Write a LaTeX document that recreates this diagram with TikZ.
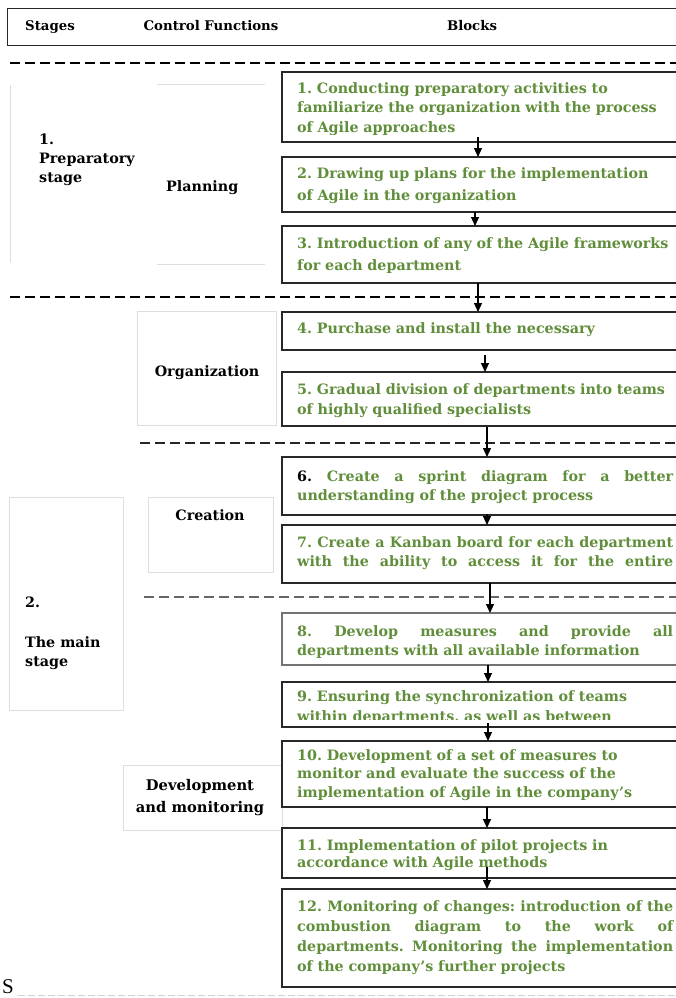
\documentclass[tikz,border=0pt]{standalone}
\usepackage{fontspec}
\setmainfont{DejaVu Serif}
\newfontfamily\timesfont{Liberation Serif}
\usetikzlibrary{arrows.meta}
\definecolor{tgreen}{RGB}{96,142,58}
\definecolor{lgray}{RGB}{222,222,222}
\definecolor{bline}{RGB}{40,40,40}
\newcommand{\jline}[1]{\makebox[376pt][s]{\spaceskip=0pt\xspaceskip=0pt #1}}
\begin{document}
\frenchspacing
\begin{tikzpicture}[x=1pt,y=-1pt,
  blk/.style={draw=bline, line width=1.2pt, anchor=north west, minimum width=400pt, minimum height=#1, inner sep=0pt, outer sep=0pt},
  btxt/.style={anchor=north west, inner sep=0pt, text width=376pt, align=left, text=tgreen, font=\bfseries\fontsize{14.3}{#1}\selectfont\frenchspacing},
  arr/.style={draw=black, line width=1.2pt, -{Triangle[length=9pt,width=8pt]}},
  dline/.style={line width=1.4pt, dash pattern=on 10pt off 5pt},
  gbox/.style={draw=lgray, line width=1pt},
  lbl/.style={font=\bfseries\fontsize{14.3}{19}\selectfont, inner sep=0pt},
  hdr/.style={font=\bfseries\fontsize{13.3}{16}\selectfont, inner sep=0pt, anchor=base},
]
\useasboundingbox (0,0) rectangle (676,998);
\clip (0,0) rectangle (676,998);
\fill[white] (0,0) rectangle (676,998);

% header
\node[draw=bline, line width=1.2pt, anchor=north west, minimum width=700pt, minimum height=37pt, inner sep=0pt] (head) at (7,8) {};
\node[hdr] (hstages) at (50,31) {Stages};
\node[hdr] (hcontrol) at (211,31) {Control Functions};
\node[hdr] (hblocks) at (472,31) {Blocks};

% dashed separators
\coordinate (d1a) at (10,63);  \coordinate (d1b) at (676,63);
\coordinate (d2a) at (10,297); \coordinate (d2b) at (676,297);
\coordinate (d3a) at (140,443); \coordinate (d3b) at (676,443);
\coordinate (d4a) at (144,597); \coordinate (d4b) at (676,597);
\coordinate (d5a) at (18,995); \coordinate (d5b) at (676,995);
\draw[dline, black] (d1a) -- (d1b);
\draw[dline, black] (d2a) -- (d2b);
\draw[dline, black!85] (d3a) -- (d3b);
\draw[dline, black!60] (d4a) -- (d4b);
\draw[line width=1pt, draw=black!18, dash pattern=on 7pt off 3pt] (d5a) -- (d5b);

% left gray frames
\draw[gbox] (10,85) -- (10,263);
\draw[gbox] (157,84) -- (265,84);
\draw[gbox] (157,264) -- (265,264);
\node[gbox, anchor=north west, minimum width=139pt, minimum height=114pt, inner sep=0pt] (orgbox) at (137,311) {};
\node[gbox, anchor=north west, minimum width=125pt, minimum height=75pt, inner sep=0pt] (creabox) at (148,497) {};
\node[gbox, anchor=north west, minimum width=114pt, minimum height=213pt, inner sep=0pt] (st2box) at (9,497) {};
\node[gbox, anchor=north west, minimum width=159pt, minimum height=65pt, inner sep=0pt] (devbox) at (123,765) {};

% left labels
\node[lbl, anchor=north west, align=left] (st1) at (39,130.7) {\strut 1.\\Preparatory\\stage};
\node[lbl, anchor=base west] (plan) at (166,191) {Planning};
\node[lbl, anchor=base] (org) at (207,376) {Organization};
\node[lbl, anchor=base] (crea) at (210,520) {Creation};
\node[lbl, anchor=base west] (st2a) at (25,607) {2.};
\node[lbl, anchor=north west, align=left] (st2b) at (25,633.7) {\strut The main\\stage};
\node[lbl, anchor=north, align=center, font=\bfseries\fontsize{14.7}{22}\selectfont] (dev) at (200,774.6) {\strut Development\\and monitoring};

% blocks
\node[blk=70pt] (b1) at (282,72) {};
\node[blk=55pt] (b2) at (282,157) {};
\node[blk=57pt] (b3) at (282,226) {};
\node[blk=38pt] (b4) at (282,312) {};
\node[blk=54pt] (b5) at (282,372) {};
\node[blk=58pt] (b6) at (282,457) {};
\node[blk=58pt] (b7) at (282,525) {};
\node[blk=52pt, draw=black!55] (b8) at (282,613) {};
\node[blk=45pt] (b9) at (282,682) {};
\node[blk=66pt] (b10) at (282,741) {};
\node[blk=50pt] (b11) at (282,828) {};
\node[blk=98pt] (b12) at (282,889) {};

% block texts
\begin{scope}
\clip (282,72) rectangle (676,134);
\node[btxt=19.5pt] (t1) at (297,79.35) {\strut 1. Conducting preparatory activities to\\familiarize the organization with the process\\of Agile approaches};
\end{scope}
\node[btxt=22pt] (t2) at (297,162.6) {\strut 2. Drawing up plans for the implementation\\of Agile in the organization};
\node[btxt=22pt] (t3) at (297,232.6) {\strut 3. Introduction of any of the Agile frameworks\\for each department};
\node[btxt=19.5pt] (t4) at (297,319.35) {\strut 4. Purchase and install the necessary};
\node[btxt=20pt] (t5) at (297,380) {\strut 5. Gradual division of departments into teams\\of highly qualified specialists};
\node[btxt=19pt] (t6) at (297,467.7) {\jline{\strut\textcolor{black}{6.} Create a sprint diagram for a better}\\understanding of the project process};
\node[btxt=19pt] (t7) at (297,533.7) {\jline{\strut 7. Create a Kanban board for each department}\\\jline{with the ability to access it for the entire}};
\node[btxt=19pt] (t8) at (297,622.7) {\jline{\strut 8. Develop measures and provide all}\\departments with all available information};
\begin{scope}
\clip (282,682) rectangle (676,719.5);
\node[btxt=20pt] (t9) at (297,687) {\strut 9. Ensuring the synchronization of teams\\within departments, as well as between};
\end{scope}
\node[btxt=18.5pt] (t10) at (297,747.05) {\strut 10. Development of a set of measures to\\monitor and evaluate the success of the\\implementation of Agile in the company's};
\node[btxt=17pt] (t11) at (297,838.1) {\strut 11. Implementation of pilot projects in\\accordance with Agile methods};
\node[btxt=20pt] (t12) at (297,897) {\jline{\strut 12. Monitoring of changes: introduction of the}\\\jline{combustion diagram to the work of}\\\jline{departments. Monitoring the implementation}\\of the company's further projects};

% arrows (box south/north at x=482)
\draw[arr] ([xshift=-4pt,yshift=5pt]b1.south) -- ([xshift=-4pt]b2.north);
\draw[arr] ([xshift=-7pt]b2.south) -- ([xshift=-7pt]b3.north);
\draw[arr] ([xshift=-4pt]b3.south) -- ([xshift=-4pt]b4.north);
\draw[arr] ([xshift=3pt,yshift=-5pt]b4.south) -- ([xshift=3pt]b5.north);
\draw[arr] ([xshift=5pt,yshift=-1pt]b5.south) -- ([xshift=5pt]b6.north);
\draw[arr] ([xshift=5pt,yshift=1pt]b6.south) -- ([xshift=5pt]b7.north);
\draw[arr] ([xshift=8pt]b7.south) -- ([xshift=8pt]b8.north);
\draw[arr] ([xshift=6pt]b8.south) -- ([xshift=6pt]b9.north);
\draw[arr] ([xshift=6pt,yshift=4pt]b9.south) -- ([xshift=6pt]b10.north);
\draw[arr] ([xshift=5pt]b10.south) -- ([xshift=5pt]b11.north);
\draw[arr] ([xshift=5pt,yshift=11pt]b11.south) -- ([xshift=5pt]b12.north);

% letter at bottom left
\node[inner sep=0pt, anchor=base west, font=\timesfont\fontsize{21}{21}\selectfont] (sletter) at (2,993) {S};
\end{tikzpicture}
\end{document}
